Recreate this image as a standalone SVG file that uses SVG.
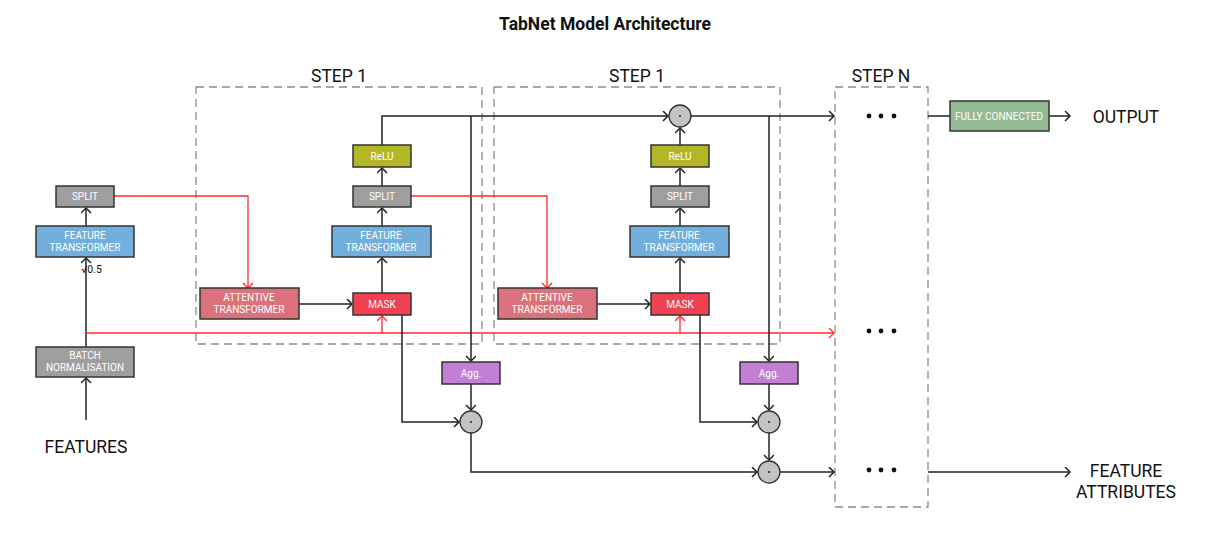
<svg xmlns="http://www.w3.org/2000/svg" width="1210" height="542" viewBox="0 0 1210 542">
<style>
.box{stroke:#333;stroke-width:1.5}
.bt{fill:#fff;font-family:Roboto,"Liberation Sans",sans-serif;font-size:10px;text-anchor:middle}
.lbl{fill:#111;font-family:Roboto,"Liberation Sans",sans-serif;font-size:17.5px;text-anchor:middle}
.step{fill:none;stroke:#8a8a8a;stroke-width:1.3;stroke-dasharray:8,5}
.k{fill:none;stroke:#222;stroke-width:1.5}
.r{fill:none;stroke:#ff2a2a;stroke-width:1.3}
.mul{fill:#c3c3c3;stroke:#333;stroke-width:1.3}
.split{fill:#9e9e9e}.ft{fill:#72afdc}.relu{fill:#b3b726}.at{fill:#db727b}.mask{fill:#ee4152}.agg{fill:#c27fd3}.fc{fill:#93bb93}
</style>
<defs>
<marker id="ak" markerUnits="userSpaceOnUse" markerWidth="12" markerHeight="12" refX="6" refY="5" orient="auto" viewBox="0 0 12 12"><path d="M1,0 L6,5 L1,10" fill="none" stroke="#222" stroke-width="1.5"/></marker>
<marker id="ar" markerUnits="userSpaceOnUse" markerWidth="12" markerHeight="12" refX="6" refY="5" orient="auto" viewBox="0 0 12 12"><path d="M1,0 L6,5 L1,10" fill="none" stroke="#ff2a2a" stroke-width="1.3"/></marker>
</defs>
<rect width="1210" height="542" fill="#fff"/>
<text x="605" y="30" font-family="Roboto,'Liberation Sans',sans-serif" font-size="17.5" font-weight="bold" text-anchor="middle" fill="#111">TabNet Model Architecture</text>

<g id="steps">
<rect class="step" x="196" y="87" width="286" height="257"/>
<rect class="step" x="494" y="87" width="286" height="257"/>
<rect class="step" x="835" y="87" width="93" height="420"/>
<text class="lbl" x="339" y="82">STEP 1</text>
<text class="lbl" x="637" y="82">STEP 1</text>
<text class="lbl" x="881" y="82">STEP N</text>
</g>

<g id="connectors">
<path class="k" d="M86,420 V378" marker-end="url(#ak)"/>
<path class="k" d="M86,347 V258" marker-end="url(#ak)"/>
<path class="k" d="M86,226 V208" marker-end="url(#ak)"/>
<path class="r" d="M114,196 H248 V288" marker-end="url(#ar)"/>
<path class="r" d="M86,333 H834" marker-end="url(#ar)"/>
<path class="r" d="M382,333 V316" marker-end="url(#ar)"/>
<path class="r" d="M680,333 V316" marker-end="url(#ar)"/>
<path class="k" d="M299,304 H352" marker-end="url(#ak)"/>
<path class="k" d="M382,293 V258" marker-end="url(#ak)"/>
<path class="k" d="M382,226 V208" marker-end="url(#ak)"/>
<path class="k" d="M382,186 V168" marker-end="url(#ak)"/>
<path class="k" d="M382,145 V116 H668" marker-end="url(#ak)"/>
<path class="k" d="M471,116 V361" marker-end="url(#ak)"/>
<path class="r" d="M411,196 H547 V288" marker-end="url(#ar)"/>
<path class="k" d="M402,315 V422 H459" marker-end="url(#ak)"/>
<path class="k" d="M471,384 V410" marker-end="url(#ak)"/>
<path class="k" d="M471,433 V472 H757" marker-end="url(#ak)"/>
<path class="k" d="M597,304 H650" marker-end="url(#ak)"/>
<path class="k" d="M680,293 V258" marker-end="url(#ak)"/>
<path class="k" d="M680,226 V208" marker-end="url(#ak)"/>
<path class="k" d="M680,186 V168" marker-end="url(#ak)"/>
<path class="k" d="M680,145 V128" marker-end="url(#ak)"/>
<path class="k" d="M691,116 H834" marker-end="url(#ak)"/>
<path class="k" d="M769,116 V361" marker-end="url(#ak)"/>
<path class="k" d="M700,315 V422 H757" marker-end="url(#ak)"/>
<path class="k" d="M769,384 V410" marker-end="url(#ak)"/>
<path class="k" d="M769,433 V460" marker-end="url(#ak)"/>
<path class="k" d="M780,472 H834" marker-end="url(#ak)"/>
<path class="k" d="M928,116 H950"/>
<path class="k" d="M1049,116 H1070" marker-end="url(#ak)"/>
<path class="k" d="M928,472 H1070" marker-end="url(#ak)"/>
</g>

<g id="input">
<text class="lbl" x="86" y="453">FEATURES</text>
<text x="81" y="273" font-family="Roboto,'Liberation Sans',sans-serif" font-size="10.5" fill="#111">√0.5</text>
</g>
<g id="bn"><rect class="box split" x="36" y="347" width="98" height="30"/><text class="bt" x="85" y="359">BATCH</text><text class="bt" x="85" y="371">NORMALISATION</text></g>
<g id="ft0"><rect class="box ft" x="36" y="226" width="98" height="31"/><text class="bt" x="85" y="239">FEATURE</text><text class="bt" x="85" y="251">TRANSFORMER</text></g>
<g id="split0"><rect class="box split" x="56" y="186" width="58" height="21"/><text class="bt" x="85" y="200">SPLIT</text></g>

<g id="at1"><rect class="box at" x="200" y="288" width="99" height="31"/><text class="bt" x="249" y="301">ATTENTIVE</text><text class="bt" x="249" y="313">TRANSFORMER</text></g>
<g id="mask1"><rect class="box mask" x="353" y="293" width="58" height="22"/><text class="bt" x="382" y="308">MASK</text></g>
<g id="ft1"><rect class="box ft" x="332" y="226" width="99" height="31"/><text class="bt" x="381" y="239">FEATURE</text><text class="bt" x="381" y="251">TRANSFORMER</text></g>
<g id="split1"><rect class="box split" x="353" y="186" width="58" height="21"/><text class="bt" x="382" y="200">SPLIT</text></g>
<g id="relu1"><rect class="box relu" x="353" y="145" width="58" height="22"/><text class="bt" x="382" y="160">ReLU</text></g>
<g id="agg1"><rect class="box agg" x="442" y="362" width="58" height="22"/><text class="bt" x="471" y="377">Agg.</text></g>
<g id="mul1"><circle class="mul" cx="471" cy="422" r="11"/><circle cx="471" cy="422" r="1" fill="#222"/></g>
<g id="mul2"><circle class="mul" cx="769" cy="422" r="11"/><circle cx="769" cy="422" r="1" fill="#222"/></g>
<g id="mul3"><circle class="mul" cx="769" cy="472" r="11"/><circle cx="769" cy="472" r="1" fill="#222"/></g>

<g id="at2"><rect class="box at" x="498" y="288" width="99" height="31"/><text class="bt" x="547" y="301">ATTENTIVE</text><text class="bt" x="547" y="313">TRANSFORMER</text></g>
<g id="mask2"><rect class="box mask" x="651" y="293" width="58" height="22"/><text class="bt" x="680" y="308">MASK</text></g>
<g id="ft2"><rect class="box ft" x="630" y="226" width="99" height="31"/><text class="bt" x="679" y="239">FEATURE</text><text class="bt" x="679" y="251">TRANSFORMER</text></g>
<g id="split2"><rect class="box split" x="651" y="186" width="58" height="21"/><text class="bt" x="680" y="200">SPLIT</text></g>
<g id="relu2"><rect class="box relu" x="651" y="145" width="58" height="22"/><text class="bt" x="680" y="160">ReLU</text></g>
<g id="agg2"><rect class="box agg" x="740" y="362" width="58" height="22"/><text class="bt" x="769" y="377">Agg.</text></g>
<g id="mul0"><circle class="mul" cx="680" cy="116" r="11"/><circle cx="680" cy="116" r="1" fill="#222"/></g>

<g id="stepN" fill="#111">
<circle cx="869" cy="116" r="2.4"/><circle cx="881" cy="116" r="2.4"/><circle cx="894" cy="116" r="2.4"/>
<circle cx="869" cy="331" r="2.4"/><circle cx="881" cy="331" r="2.4"/><circle cx="894" cy="331" r="2.4"/>
<circle cx="869" cy="470" r="2.4"/><circle cx="881" cy="470" r="2.4"/><circle cx="894" cy="470" r="2.4"/>
</g>
<g id="fc"><rect class="box fc" x="950" y="101" width="99" height="30"/><text class="bt" x="999" y="119.5">FULLY CONNECTED</text></g>
<g id="outputs">
<text class="lbl" x="1126" y="123">OUTPUT</text>
<text class="lbl" x="1126" y="477">FEATURE</text>
<text class="lbl" x="1126" y="498">ATTRIBUTES</text>
</g>
</svg>
